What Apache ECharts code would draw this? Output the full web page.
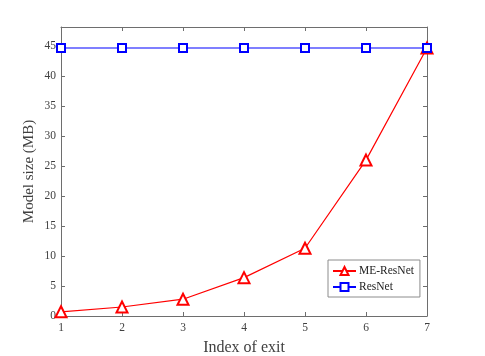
<!DOCTYPE html>
<html><head><meta charset="utf-8">
<script src="https://cdn.jsdelivr.net/npm/echarts@6/dist/echarts.min.js"></script>
<style>html,body{margin:0;padding:0;background:#fff}#c{width:485px;height:356px}</style>
</head><body><div id="c"></div>
<script>
const exitIndex = [1, 2, 3, 4, 5, 6, 7];
const meResNet = [0.7, 1.5, 2.8, 6.4, 11.3, 26.0, 44.7];
const resNet = [44.7, 44.7, 44.7, 44.7, 44.7, 44.7, 44.7];
const seriesNames = ['ME-ResNet', 'ResNet'];
const xLabel = 'Index of exit';
const yLabel = 'Model size (MB)';

const font = 'Liberation Serif';
const axisCol = '#6e6e6e';
const txtCol = '#404040';
const chart = echarts.init(document.getElementById('c'));
const hiddenAxis = {
  axisLabel: {show: false}, splitLine: {show: false},
  axisLine: {show: true, onZero: false, lineStyle: {color: axisCol, width: 1}},
  axisTick: {show: true, inside: true, length: 4, lineStyle: {color: axisCol}}
};
chart.setOption({
  animation: false,
  grid: {left: 61, right: 58, top: 27, bottom: 40, outerBoundsMode: 'none', containLabel: false},
  xAxis: [{
    type: 'value', min: 1, max: 7, interval: 1,
    name: xLabel, nameLocation: 'middle', nameGap: 24,
    nameTextStyle: {fontFamily: font, fontSize: 16, color: txtCol},
    axisLabel: {fontFamily: font, fontSize: 11.5, color: txtCol, margin: 6},
    axisLine: {onZero: false, lineStyle: {color: axisCol}},
    axisTick: {inside: true, length: 4, lineStyle: {color: axisCol}},
    splitLine: {show: false}
  }, Object.assign({type: 'value', min: 1, max: 7, interval: 1, position: 'top'}, hiddenAxis)],
  yAxis: [{
    type: 'value', min: 0, max: 48.2, interval: 5,
    name: yLabel, nameLocation: 'middle', nameGap: 24, nameMoveOverlap: false,
    nameTextStyle: {fontFamily: font, fontSize: 15, color: txtCol},
    axisLabel: {fontFamily: font, fontSize: 11.5, color: txtCol, margin: 5, showMaxLabel: false},
    axisLine: {show: true, onZero: false, lineStyle: {color: axisCol}},
    axisTick: {show: true, inside: true, length: 4, lineStyle: {color: axisCol}},
    splitLine: {show: false}
  }, Object.assign({type: 'value', min: 0, max: 48.2, interval: 5, position: 'right'}, hiddenAxis)],
  legend: {
    orient: 'vertical', left: 328, top: 260,
    backgroundColor: '#fff', borderColor: '#8c8c8c', borderWidth: 1,
    padding: [5, 6, 4, 4], itemGap: 4, itemWidth: 23, itemHeight: 10,
    textStyle: {fontFamily: font, fontSize: 11.5, color: '#222', padding: [0, 0, 0, -2]},
    data: seriesNames
  },
  series: [{
    name: seriesNames[0], type: 'line',
    data: exitIndex.map((x, i) => [x, meResNet[i]]),
    symbol: 'emptyTriangle', symbolSize: 11,
    itemStyle: {color: '#ff0000', borderWidth: 1},
    lineStyle: {color: '#ff0000', width: 1.2}
  }, {
    name: seriesNames[1], type: 'line',
    data: exitIndex.map((x, i) => [x, resNet[i]]),
    symbol: 'emptyRect', symbolSize: 8,
    itemStyle: {color: '#0000ff', borderWidth: 1},
    lineStyle: {color: '#0000ff', width: 1.2}
  }]
});
</script></body></html>
